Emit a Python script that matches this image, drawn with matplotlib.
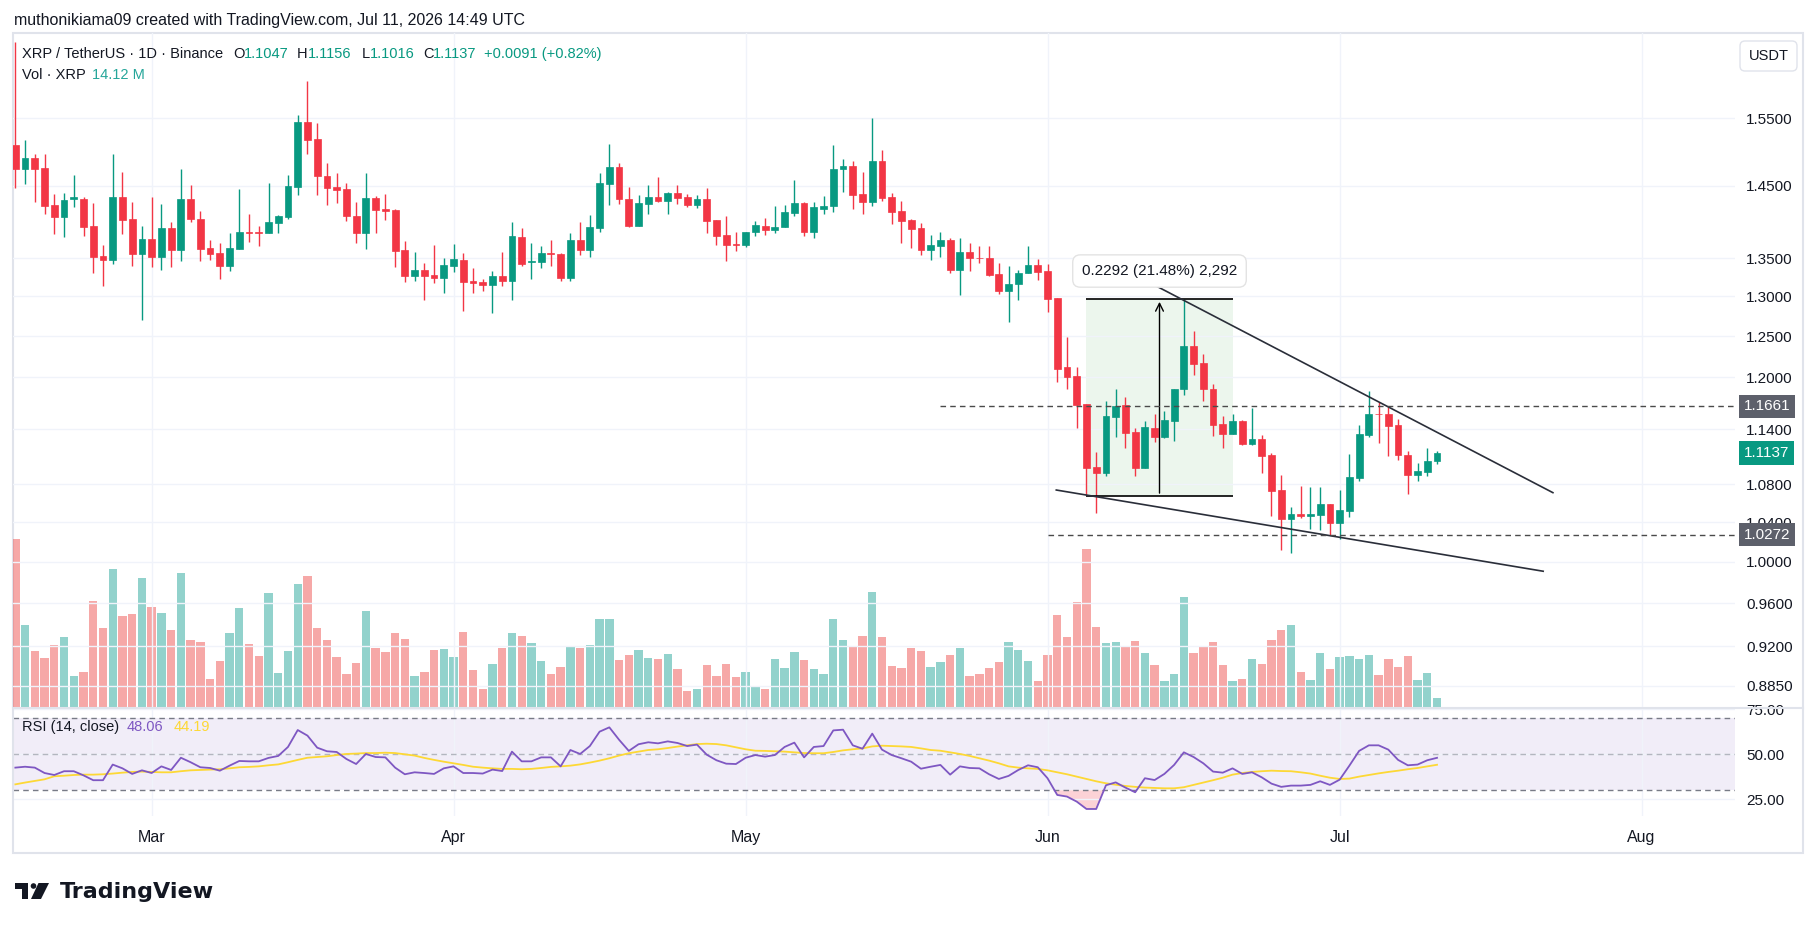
import numpy as np
import pandas as pd
import matplotlib
matplotlib.use("Agg")
import matplotlib.pyplot as plt
from matplotlib.patches import Polygon, Circle, Rectangle, FancyBboxPatch
from matplotlib.lines import Line2D
from matplotlib.transforms import Affine2D
from matplotlib import ticker

plt.rcParams['font.family'] = ['Liberation Sans', 'DejaVu Sans']

# ---- data (XRP/USDT daily, from Feb 15 2026) ----
start = pd.Timestamp("2026-02-15")

opens = [1.510, 1.475, 1.490, 1.476, 1.423, 1.406, 1.432, 1.431, 1.394, 1.353,
         1.348, 1.434, 1.403, 1.356, 1.376, 1.352, 1.391, 1.361, 1.431, 1.404,
         1.364, 1.357, 1.340, 1.363, 1.386, 1.385, 1.384, 1.398, 1.406, 1.449,
         1.545, 1.519, 1.465, 1.448, 1.445, 1.408, 1.384, 1.433, 1.417, 1.416,
         1.361, 1.326, 1.334, 1.328, 1.324, 1.340, 1.348, 1.320, 1.319, 1.315,
         1.327, 1.320, 1.379, 1.345, 1.345, 1.357, 1.356, 1.324, 1.375, 1.361,
         1.391, 1.453, 1.477, 1.432, 1.394, 1.425, 1.434, 1.429, 1.440, 1.434,
         1.423, 1.431, 1.402, 1.381, 1.369, 1.368, 1.385, 1.394, 1.388, 1.392,
         1.412, 1.426, 1.386, 1.418, 1.421, 1.474, 1.479, 1.438, 1.427, 1.486,
         1.434, 1.414, 1.402, 1.391, 1.361, 1.367, 1.375, 1.335, 1.358, 1.351,
         1.350, 1.329, 1.307, 1.316, 1.330, 1.341, 1.333, 1.298, 1.213, 1.202,
         1.169, 1.098, 1.092, 1.154, 1.168, 1.137, 1.097, 1.142, 1.132, 1.150,
         1.186, 1.238, 1.217, 1.186, 1.146, 1.135, 1.150, 1.124, 1.129, 1.111,
         1.074, 1.043, 1.049, 1.047, 1.048, 1.059, 1.039, 1.052, 1.087, 1.134,
         1.158, 1.158, 1.145, 1.112, 1.090, 1.093, 1.1047]

highs = [1.672, 1.518, 1.497, 1.496, 1.439, 1.440, 1.466, 1.434, 1.426, 1.368,
         1.496, 1.470, 1.427, 1.394, 1.434, 1.424, 1.399, 1.474, 1.452, 1.415,
         1.375, 1.371, 1.384, 1.445, 1.411, 1.394, 1.454, 1.409, 1.466, 1.555,
         1.608, 1.543, 1.483, 1.468, 1.454, 1.427, 1.468, 1.436, 1.439, 1.417,
         1.373, 1.358, 1.344, 1.368, 1.350, 1.369, 1.357, 1.337, 1.323, 1.333,
         1.358, 1.399, 1.391, 1.370, 1.366, 1.375, 1.357, 1.384, 1.399, 1.409,
         1.468, 1.511, 1.483, 1.449, 1.437, 1.452, 1.463, 1.441, 1.452, 1.439,
         1.437, 1.447, 1.402, 1.407, 1.386, 1.386, 1.401, 1.405, 1.421, 1.423,
         1.459, 1.427, 1.427, 1.436, 1.510, 1.489, 1.486, 1.470, 1.551, 1.502,
         1.440, 1.429, 1.403, 1.398, 1.381, 1.386, 1.378, 1.378, 1.371, 1.366,
         1.366, 1.344, 1.340, 1.334, 1.366, 1.349, 1.342, 1.298, 1.249, 1.213,
         1.169, 1.115, 1.172, 1.187, 1.177, 1.142, 1.150, 1.158, 1.161, 1.187,
         1.297, 1.256, 1.228, 1.192, 1.155, 1.157, 1.151, 1.164, 1.134, 1.114,
         1.090, 1.056, 1.078, 1.077, 1.077, 1.059, 1.074, 1.113, 1.145, 1.184,
         1.171, 1.166, 1.152, 1.116, 1.103, 1.119, 1.1156]

lows = [1.447, 1.453, 1.427, 1.410, 1.383, 1.379, 1.420, 1.380, 1.331, 1.314,
        1.342, 1.383, 1.340, 1.270, 1.338, 1.335, 1.338, 1.347, 1.399, 1.347,
        1.348, 1.323, 1.333, 1.362, 1.372, 1.366, 1.384, 1.384, 1.403, 1.437,
        1.496, 1.437, 1.423, 1.426, 1.401, 1.371, 1.362, 1.384, 1.402, 1.338,
        1.319, 1.320, 1.296, 1.318, 1.305, 1.332, 1.281, 1.304, 1.307, 1.279,
        1.313, 1.296, 1.340, 1.323, 1.337, 1.340, 1.320, 1.320, 1.354, 1.352,
        1.386, 1.423, 1.424, 1.392, 1.394, 1.411, 1.427, 1.410, 1.424, 1.420,
        1.419, 1.384, 1.368, 1.346, 1.360, 1.365, 1.380, 1.381, 1.384, 1.392,
        1.407, 1.380, 1.378, 1.411, 1.413, 1.441, 1.418, 1.411, 1.421, 1.428,
        1.396, 1.371, 1.364, 1.355, 1.348, 1.352, 1.331, 1.302, 1.333, 1.344,
        1.327, 1.303, 1.268, 1.296, 1.330, 1.321, 1.280, 1.195, 1.187, 1.141,
        1.068, 1.050, 1.089, 1.132, 1.119, 1.089, 1.097, 1.126, 1.130, 1.127,
        1.179, 1.203, 1.172, 1.133, 1.119, 1.135, 1.123, 1.123, 1.092, 1.046,
        1.012, 1.009, 1.044, 1.033, 1.032, 1.027, 1.023, 1.045, 1.083, 1.132,
        1.125, 1.110, 1.106, 1.070, 1.083, 1.089, 1.1016]

closes = [1.475, 1.490, 1.475, 1.422, 1.406, 1.430, 1.434, 1.393, 1.352, 1.348,
          1.434, 1.402, 1.356, 1.376, 1.352, 1.391, 1.361, 1.431, 1.403, 1.363,
          1.356, 1.340, 1.364, 1.386, 1.384, 1.384, 1.399, 1.407, 1.450, 1.545,
          1.517, 1.464, 1.447, 1.444, 1.407, 1.384, 1.433, 1.416, 1.414, 1.360,
          1.326, 1.334, 1.327, 1.324, 1.341, 1.349, 1.319, 1.318, 1.315, 1.327,
          1.320, 1.380, 1.343, 1.346, 1.357, 1.356, 1.324, 1.375, 1.361, 1.392,
          1.454, 1.477, 1.431, 1.394, 1.426, 1.434, 1.429, 1.440, 1.433, 1.423,
          1.431, 1.401, 1.380, 1.368, 1.368, 1.386, 1.395, 1.388, 1.393, 1.413,
          1.426, 1.386, 1.420, 1.422, 1.475, 1.479, 1.437, 1.427, 1.486, 1.433,
          1.413, 1.401, 1.390, 1.361, 1.368, 1.375, 1.334, 1.358, 1.350, 1.350,
          1.328, 1.307, 1.316, 1.331, 1.341, 1.332, 1.297, 1.210, 1.201, 1.168,
          1.097, 1.092, 1.155, 1.167, 1.136, 1.097, 1.143, 1.132, 1.151, 1.187,
          1.238, 1.216, 1.186, 1.145, 1.135, 1.150, 1.124, 1.129, 1.110, 1.073,
          1.043, 1.049, 1.047, 1.049, 1.059, 1.039, 1.053, 1.088, 1.135, 1.158,
          1.157, 1.144, 1.111, 1.090, 1.094, 1.1046, 1.1137]

# volume, millions of XRP
volumes = [264, 129, 88, 77, 97, 110, 49, 55, 166, 124,
           217, 143, 146, 203, 157, 148, 121, 210, 105, 102,
           44, 72, 116, 155, 99, 80, 179, 53, 88, 193,
           206, 124, 105, 79, 52, 69, 151, 93, 86, 116,
           107, 49, 55, 89, 91, 79, 118, 58, 28, 68,
           93, 116, 111, 100, 72, 52, 63, 94, 93, 97,
           138, 138, 74, 82, 89, 77, 75, 83, 60, 25,
           28, 66, 49, 68, 47, 55, 31, 28, 75, 61,
           86, 74, 60, 52, 138, 105, 94, 111, 181, 110,
           64, 61, 93, 88, 63, 71, 82, 93, 49, 52,
           61, 71, 102, 89, 72, 41, 82, 144, 110, 165,
           248, 126, 100, 102, 96, 104, 85, 66, 41, 52,
           173, 85, 96, 102, 66, 41, 44, 75, 68, 105,
           121, 129, 55, 42, 85, 60, 79, 80, 75, 82,
           50, 75, 63, 80, 42, 53, 14.12]

rsi = [42.6, 43.1, 42.6, 39.6, 38.5, 40.6, 40.6, 38.3, 35.6, 35.6,
       44.3, 42.2, 39.1, 41.1, 39.6, 43.3, 41.3, 48.1, 45.6, 42.8,
       42.4, 40.9, 43.7, 46.3, 46.1, 46.1, 48.0, 49.1, 54.1, 63.5,
       60.4, 53.7, 51.7, 51.3, 47.4, 44.6, 50.2, 48.5, 48.3, 42.6,
       38.9, 40.0, 39.6, 39.1, 42.2, 43.3, 39.6, 39.6, 39.3, 41.5,
       40.7, 51.5, 46.1, 46.1, 48.3, 48.3, 43.3, 52.4, 50.2, 54.6,
       62.6, 65.0, 58.1, 51.9, 55.6, 56.7, 56.1, 57.2, 56.3, 54.6,
       55.4, 49.8, 46.7, 44.8, 44.6, 48.1, 49.6, 48.7, 49.6, 54.1,
       56.5, 48.3, 54.1, 54.6, 63.3, 63.7, 55.0, 53.1, 61.5, 52.6,
       49.6, 47.8, 45.9, 42.0, 43.1, 44.1, 38.7, 43.3, 42.4, 42.2,
       38.9, 36.3, 38.0, 41.3, 43.9, 42.8, 36.7, 27.4, 26.5, 23.7,
       19.6, 19.6, 32.8, 34.4, 31.5, 28.9, 36.7, 35.7, 39.1, 44.1,
       51.1, 48.5, 45.0, 40.4, 39.8, 42.2, 39.1, 40.0, 37.2, 33.7,
       31.9, 32.6, 32.6, 33.0, 35.0, 33.0, 35.9, 43.7, 51.9, 55.0,
       55.0, 52.6, 46.9, 43.9, 44.3, 46.7, 48.06]

rsi_ma = [33.3, 34.3, 35.2, 36.1, 37.8, 38.1, 38.5, 38.7, 38.7, 38.9,
          39.3, 39.8, 40.2, 40.4, 40.2, 40.0, 40.0, 40.6, 41.1, 41.3,
          41.5, 41.7, 42.2, 42.8, 43.0, 43.3, 43.9, 44.4, 45.6, 46.9,
          48.1, 48.5, 48.9, 49.6, 50.2, 50.4, 50.7, 50.7, 50.9, 50.7,
          50.0, 49.3, 48.0, 46.9, 45.9, 45.0, 44.1, 43.1, 42.6, 42.2,
          41.9, 41.9, 41.7, 41.9, 42.4, 43.0, 43.3, 43.7, 44.4, 45.4,
          46.5, 47.8, 49.3, 50.6, 51.5, 52.4, 52.8, 53.5, 54.3, 55.0,
          55.7, 55.9, 55.7, 55.0, 53.9, 52.8, 52.0, 51.9, 51.7, 51.5,
          51.1, 50.7, 50.6, 50.6, 51.3, 52.2, 52.8, 53.3, 54.4, 54.8,
          54.6, 54.4, 54.1, 53.3, 52.4, 52.0, 51.1, 50.2, 49.1, 47.8,
          46.5, 45.0, 43.3, 42.6, 42.2, 41.9, 41.1, 40.0, 38.9, 37.6,
          36.3, 35.0, 33.9, 33.1, 32.4, 31.9, 31.5, 31.3, 31.1, 31.1,
          31.7, 33.0, 34.3, 35.6, 37.0, 38.7, 39.6, 40.2, 40.6, 40.9,
          40.7, 40.6, 40.0, 39.3, 38.1, 37.0, 36.3, 36.5, 37.6, 38.5,
          39.4, 40.2, 40.9, 41.7, 42.4, 43.3, 44.19]

months = ["Mar", "Apr", "May", "Jun", "Jul", "Aug"]
month_days = pd.to_datetime(["2026-03-01", "2026-04-01", "2026-05-01",
                             "2026-06-01", "2026-07-01", "2026-08-01"])
price_ticks = [1.55, 1.45, 1.35, 1.30, 1.25, 1.20, 1.14, 1.08, 1.04,
               1.00, 0.96, 0.92, 0.885]
rsi_ticks = [25, 50, 75]

# drawings, in (bar index, price)
meas_x = [110, 125]
meas_lo, meas_hi = 1.0675, 1.2967
meas_label = "0.2292 (21.48%) 2,292"
upper_x, upper_y = [117.3, 157.9], [1.3126, 1.0709]
lower_x, lower_y = [106.9, 156.9], [1.0737, 0.9909]
levels = [1.1661, 1.0272]
level_from = [95, 106]

GREEN, RED = "#089981", "#F23645"
TXT = "#131722"
W, H = 1814, 930

fig = plt.figure(figsize=(W / 100, H / 100), dpi=100)
fig.patch.set_facecolor("white")
# pixel transform (origin top-left) for the chrome around the chart
px = Affine2D().scale(1 / W, -1 / H).translate(0, 1) + fig.transFigure


def box(left, top, right, bottom):
    return [left / W, 1 - bottom / H, (right - left) / W, (bottom - top) / H]


n = len(closes)
x = np.arange(n)
o, h, l, c = map(np.array, (opens, highs, lows, closes))
up = c >= o
month_x = [(d - start).days for d in month_days]
xlim = (-0.24, 176.6)

# ---------------- price pane ----------------
ax = fig.add_axes(box(13, 33, 1735, 707))
axv = ax.twinx()
ax.set_zorder(2)
axv.set_zorder(1)
ax.patch.set_visible(False)

vol_cols = ["#26A69A" if u else "#EF5350" for u in up]
axv.bar(x, volumes, width=0.86, color=vol_cols, alpha=0.5, linewidth=0)
axv.set_ylim(0, 674 * 1.57)
axv.axis("off")

cols = [GREEN if u else RED for u in up]
ax.vlines(x, l, h, colors=cols, lw=1, zorder=3)
ax.bar(x, np.abs(c - o), bottom=np.minimum(o, c), width=0.7, color=cols,
       edgecolor=cols, linewidth=0.5, zorder=4)

ax.set_yscale("log")
ax.set_ylim(0.8665, 1.6866)
ax.set_xlim(*xlim)
ax.yaxis.tick_right()
ax.yaxis.set_major_locator(ticker.FixedLocator(price_ticks))
ax.yaxis.set_minor_locator(ticker.NullLocator())
ax.yaxis.set_major_formatter(ticker.FuncFormatter(lambda v, _: f"{v:.4f}"))
ax.set_xticks(month_x)
ax.tick_params(axis="x", length=0, labelbottom=False)
ax.tick_params(axis="y", length=0, pad=8, labelsize=11, labelcolor=TXT)
ax.grid(color="#f0f3fa", lw=1)
for s in ax.spines.values():
    s.set_visible(False)

# measurement box
ax.fill_between(meas_x, meas_lo, meas_hi, color="#4CAF50", alpha=0.1, lw=0, zorder=1)
ax.hlines([meas_lo, meas_hi], meas_x[0], meas_x[1], colors="black", lw=1.2, zorder=5)
mid = sum(meas_x) / 2
ax.annotate("", xy=(mid, meas_hi), xytext=(mid, meas_lo),
            arrowprops=dict(arrowstyle="->", color="black", lw=1, mutation_scale=14),
            zorder=5)

# wedge lines
ax.plot(upper_x, upper_y, color="#2a2e39", lw=1.2, zorder=5)
ax.plot(lower_x, lower_y, color="#2a2e39", lw=1.2, zorder=5)

ax.text(mid, 1.3331, meas_label, ha="center", va="center", fontsize=11, color=TXT,
        zorder=10, bbox=dict(boxstyle="round,pad=0.6,rounding_size=0.5",
                             fc="white", ec="#e3e3e3", lw=1))

for lv, fr in zip(levels, level_from):
    ax.hlines(lv, fr, xlim[1], colors="#4a4a4a", linestyles=(0, (4, 3)), lw=1, zorder=5)
    ax.text(1.005, lv, f"{lv:.4f}", transform=ax.get_yaxis_transform(), ha="left",
            va="center", fontsize=11, color="white", zorder=12, clip_on=False,
            bbox=dict(boxstyle="square,pad=0.3", fc="#5d606b", ec="none"))
ax.text(1.005, c[-1], f"{c[-1]:.4f}", transform=ax.get_yaxis_transform(), ha="left",
        va="center", fontsize=11, color="white", zorder=12, clip_on=False,
        bbox=dict(boxstyle="square,pad=0.3", fc=GREEN, ec="none"))

# ---------------- RSI pane ----------------
axr = fig.add_axes(box(13, 709, 1735, 816))
r = np.array(rsi)
axr.axhspan(30, 70, color="#7E57C2", alpha=0.1, lw=0)
axr.axhline(70, color="#787B86", ls=(0, (4, 3)), lw=1)
axr.axhline(30, color="#787B86", ls=(0, (4, 3)), lw=1)
axr.axhline(50, color="#787B86", ls=(0, (4, 3)), lw=1, alpha=0.5)
axr.fill_between(x, r, 30, where=r < 30, interpolate=True, color="#F23645",
                 alpha=0.22, lw=0)
axr.plot(x, rsi_ma, color="#FDD835", lw=1.3)
axr.plot(x, r, color="#7E57C2", lw=1.3)
axr.set_xlim(*xlim)
axr.set_ylim(15.7, 75.2)
axr.set_xticks(month_x, months)
axr.yaxis.tick_right()
axr.set_yticks(rsi_ticks)
axr.yaxis.set_major_formatter(ticker.FormatStrFormatter("%.2f"))
axr.tick_params(axis="x", length=0, pad=10, labelsize=11.5, labelcolor=TXT)
axr.tick_params(axis="y", length=0, pad=8, labelsize=11, labelcolor=TXT)
axr.grid(color="#f0f3fa", lw=1)
for s in axr.spines.values():
    s.set_visible(False)

# ---------------- chrome ----------------
fig.add_artist(Rectangle((13, 33), 1790, 820, transform=px, fill=False,
                         ec="#e0e3eb", lw=1.5))
fig.add_artist(Line2D([13, 1803], [708, 708], transform=px, color="#e0e3eb", lw=1.5))

fig.text(14, 20, "muthonikiama09 created with TradingView.com, Jul 11, 2026 14:49 UTC",
         transform=px, va="center", fontsize=11.5, color=TXT)

chg = c[-1] - c[-2]
runs = [("XRP / TetherUS · 1D · Binance", TXT, 22),
        ("O", TXT, 233), (f"{o[-1]:.4f}", GREEN, 244),
        ("H", TXT, 297), (f"{h[-1]:.4f}", GREEN, 308),
        ("L", TXT, 362), (f"{l[-1]:.4f}", GREEN, 370),
        ("C", TXT, 423), (f"{c[-1]:.4f}", GREEN, 433),
        (f"+{chg:.4f} (+{chg / c[-2] * 100:.2f}%)", GREEN, 484)]
for t, col, xp in runs:
    fig.text(xp, 54, t, transform=px, va="center", fontsize=10.5, color=col)
fig.text(22, 75, "Vol · XRP", transform=px, va="center", fontsize=10.5, color=TXT)
fig.text(92, 75, f"{volumes[-1]:.2f} M", transform=px, va="center", fontsize=10.5,
         color="#26A69A")
fig.text(22, 727, "RSI (14, close)", transform=px, va="center", fontsize=10.5, color=TXT)
fig.text(127, 727, f"{rsi[-1]:.2f}", transform=px, va="center", fontsize=10.5,
         color="#7E57C2")
fig.text(174, 727, f"{rsi_ma[-1]:.2f}", transform=px, va="center", fontsize=10.5,
         color="#FDD835")

fig.add_artist(FancyBboxPatch((1740, 41), 57, 30, boxstyle="round,pad=0,rounding_size=5",
                              transform=px, fc="white", ec="#e0e3eb", lw=1))
fig.text(1768.5, 56, "USDT", transform=px, ha="center", va="center",
         fontsize=10.5, color=TXT)

# TradingView logo
fig.add_artist(Polygon([(15, 883), (27.5, 883), (27.5, 899), (21.5, 899),
                        (21.5, 888.5), (15, 888.5)], closed=True, transform=px,
                       fc="#131722", ec="none"))
fig.add_artist(Circle((33.5, 886), 2.8, transform=px, fc="#131722", ec="none"))
fig.add_artist(Polygon([(38.5, 883), (49, 883), (41, 899), (31, 899)], closed=True,
                       transform=px, fc="#131722", ec="none"))
fig.text(60, 892, "TradingView", transform=px, va="center", fontsize=16,
         fontweight="bold", color="#131722", family="DejaVu Sans")

fig.savefig("out.png", dpi=100, facecolor="white")
